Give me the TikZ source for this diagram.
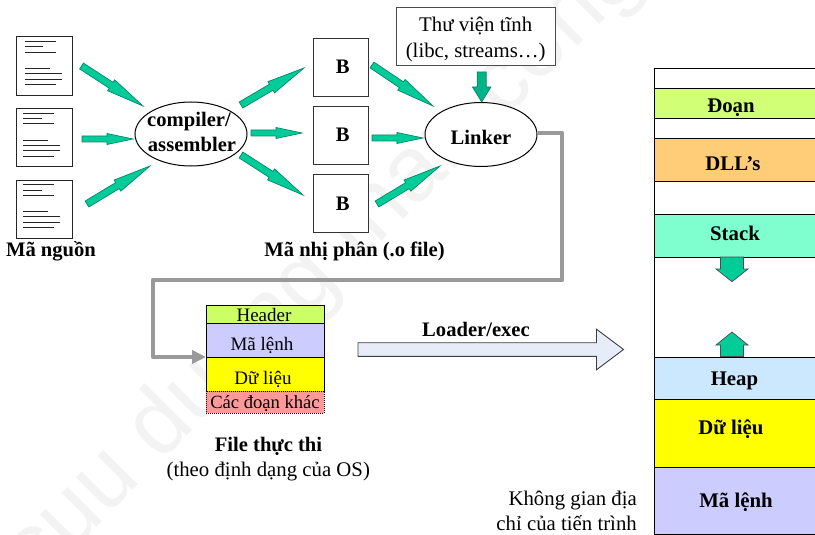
\documentclass[tikz,border=0pt]{standalone}
\usepackage{fontspec}
\setmainfont{Liberation Serif}
\usetikzlibrary{calc,arrows.meta,shapes.geometric}
\definecolor{arrowgreen}{RGB}{0,204,153}
\definecolor{arrowedge}{RGB}{0,136,102}
\definecolor{wiregray}{RGB}{153,153,153}
\definecolor{limeseg}{RGB}{204,255,102}
\definecolor{lilacseg}{RGB}{204,204,255}
\definecolor{pinkseg}{RGB}{255,153,153}
\definecolor{orangeseg}{RGB}{255,204,119}
\definecolor{mintseg}{RGB}{127,255,208}
\definecolor{skyseg}{RGB}{204,232,255}
\definecolor{paleblue}{RGB}{230,236,248}
\definecolor{pureyellow}{RGB}{255,255,0}
\definecolor{markgray}{RGB}{243,243,243}
\newcommand{\blockarrow}[6][]{%
  \coordinate (hbase) at ($(#3)!#4!(#2)$);
  \filldraw[arrowshape,#1] ($(#2)!#5!90:(#3)$) -- ($(hbase)!#5!-90:(#2)$) -- ($(hbase)!#6!-90:(#2)$)
    -- (#3) -- ($(hbase)!#6!90:(#2)$) -- ($(hbase)!#5!90:(#2)$) -- ($(#2)!#5!-90:(#3)$) -- cycle;
}
\newcommand{\docsheet}[4]{%
  \node[sheet,minimum height=#3pt] (#1) at (#2) {};
  \foreach \dy/\lx/\rx in {#4} {
    \draw[textline] ([shift={(\lx,\dy)}]#1.north west) -- ([shift={(\rx,\dy)}]#1.north west);
  }
}
\tikzset{
  arrowshape/.style={fill=arrowgreen,draw=arrowedge,line width=0.7pt,line join=miter},
  sheet/.style={draw=black!85,line width=1.2pt,fill=white,minimum width=56pt,inner sep=0pt,anchor=north west},
  textline/.style={draw=black!85,line width=0.9pt},
  objbox/.style={draw=black!80,line width=1.1pt,fill=white,minimum width=55pt,minimum height=58pt,inner sep=0pt,anchor=north west},
  toolellipse/.style={ellipse,draw=black,line width=1pt,fill=white,minimum width=112pt,minimum height=64pt,inner sep=0pt},
  libbox/.style={draw=black!70,line width=1pt,fill=white,minimum width=159pt,minimum height=58pt,inner sep=0pt,anchor=north west},
  seg/.style={draw=black,line width=1pt,inner sep=0pt,anchor=north west},
  fileseg/.style={seg,minimum width=118pt},
  memseg/.style={seg,minimum width=161pt},
  boldtxt/.style={font=\fontsize{20.6}{24}\selectfont\bfseries,anchor=base,inner sep=0pt},
  membold/.style={font=\fontsize{20.8}{24}\selectfont\bfseries,anchor=base,inner sep=0pt},
  regtxt/.style={font=\fontsize{20.8}{24}\selectfont,anchor=base,inner sep=0pt},
  smalltxt/.style={font=\fontsize{18.6}{22}\selectfont,anchor=base,inner sep=0pt},
  filetxt/.style={font=\fontsize{19}{22}\selectfont,anchor=base,inner sep=0pt},
  graywire/.style={draw=wiregray,line width=4.5pt,line join=round,-{Triangle[length=14pt,width=13pt]}},
  pagemark/.style={font=\fontsize{92}{92}\selectfont\sffamily,text=markgray,rotate=45,inner sep=0pt},
}
\setsansfont{Liberation Sans}
\begin{document}
\begin{tikzpicture}[x=1pt,y=-1pt]
\useasboundingbox (0,0) rectangle (815,535);
\fill[white] (0,0) rectangle (815,535);
\begin{scope}
\clip (0,0) rectangle (815,535);
\node[pagemark] (watermark) at (325,265) {cuu duong than cong};
\end{scope}

% source documents
\docsheet{doca}{16,36}{59}{5/9/40,10.5/9/27,16/9/40,32/9/34,37.5/9/46,43/9/46,48.5/9/40}
\docsheet{docb}{16,108}{58}{5/7/38,10/7/26,15.5/7/38,32/7/32,37.5/7/44,42.5/7/44,48/7/38}
\docsheet{docc}{16,180}{58}{4/7/38,10/7/26,15/7/38,31/7/32,36.5/7/44,42/7/44,47.5/7/38}
\node[boldtxt] (srclabel) at (51,256.7) {Mã nguồn};

% compiler
\node[toolellipse] (compiler) at (191,134) {};
\node[boldtxt] (compa) at (189,126.7) {compiler/};
\node[boldtxt] (compb) at (192,151.7) {assembler};

% object files
\node[objbox] (obja) at (313,38) {};
\node[objbox] (objb) at (313,106) {};
\node[objbox] (objc) at (313,174) {};
\node[boldtxt] (ba) at (342.7,74) {B};
\node[boldtxt] (bb) at (342.7,141.7) {B};
\node[boldtxt] (bc) at (342.7,210) {B};
\node[boldtxt] (objlabel) at (354.5,256.7) {Mã nhị phân (.o file)};

% linker and library
\node[toolellipse] (linker) at (481,134.5) {};
\node[boldtxt] (linkertxt) at (481,145) {Linker};
\node[libbox] (lib) at (396,7) {};
\node[regtxt] (liba) at (475.7,32) {Thư viện tĩnh};
\node[regtxt] (libb) at (475.7,57.3) {(libc, streams…)};

% green arrows
\foreach \n/\xs/\ys/\xe/\ye in {sa/81.5/66/143/106, sc/87/204/150/166, oa/241/105/304/68, oc/241/155/303/195, la/372/65/433/106, lc/377/204/440/166}{
  \coordinate (\n s) at (\xs,\ys);
  \coordinate (\n e) at (\xe,\ye);
  \blockarrow{\n s}{\n e}{38pt}{3.5pt}{6.5pt}
}
\foreach \n/\xs/\ys/\xe/\ye in {sb/82/139/133/139, ob/251/133/302/133, lb/372/138/423/138}{
  \coordinate (\n s) at (\xs,\ys);
  \coordinate (\n e) at (\xe,\ye);
  \blockarrow{\n s}{\n e}{26pt}{3pt}{5.5pt}
}
\coordinate (libout) at (481.7,72);
\coordinate (linkin) at (481.7,102);
\blockarrow[fill=arrowgreen!88!black]{libout}{linkin}{15pt}{4.5pt}{9.2pt}

% executable file
\node[fileseg,fill=limeseg,minimum height=18.5pt] (hdr) at (206,304.5) {};
\node[fileseg,fill=lilacseg,minimum height=34pt] (fcode) at (206,323) {};
\node[fileseg,fill=pureyellow,minimum height=34pt] (fdata) at (206,357) {};
\node[fileseg,fill=pinkseg,minimum height=22pt,densely dotted,line width=0.8pt] (fother) at (206,391) {};
\node[filetxt] (hdrtxt) at (264,321.7) {Header};
\node[filetxt] (fcodetxt) at (262,350) {Mã lệnh};
\node[filetxt] (fdatatxt) at (263,384) {Dữ liệu};
\node[smalltxt] (fothertxt) at (265,408) {Các đoạn khác};
\node[boldtxt] (exea) at (268.5,451.7) {File thực thi};
\node[regtxt] (exeb) at (268.3,476.7) {(theo định dạng của OS)};

% grey connector
\coordinate (wa) at (562,133);
\coordinate (wb) at (562,280);
\coordinate (wc) at (153,280);
\coordinate (wd) at (153,357);
\draw[graywire] (linker.east |- wa) -- (wa) -- (wb) -- (wc) -- (wd) -- (fdata.north west);

% loader arrow
\coordinate (loads) at (358,349.5);
\coordinate (loade) at (623.5,349.5);
\blockarrow[fill=paleblue,draw=black!75,line width=0.9pt]{loads}{loade}{27pt}{6.8pt}{20.3pt}
\node[boldtxt] (loadtxt) at (476,336) {Loader/exec};

% process address space
\draw[line width=1pt] (815,69) -- (654,69) -- (654,534);
\node[memseg,fill=limeseg!90!white,minimum height=30pt] (mseg) at (654,88.5) {};
\node[memseg,fill=orangeseg,minimum height=42.5pt] (mdll) at (654,138.5) {};
\node[memseg,fill=mintseg,minimum height=43pt] (mstack) at (654,213.7) {};
\node[memseg,fill=skyseg,minimum height=42.3pt] (mheap) at (654,356.7) {};
\node[memseg,fill=pureyellow,minimum height=68pt] (mdata) at (653.5,399) {};
\node[memseg,fill=lilacseg,minimum height=66.5pt] (mcode) at (653.5,467) {};
\node[membold] (msegtxt) at (731,113) {Đoạn};
\node[membold] (mdlltxt) at (733,170.7) {DLL’s};
\node[membold] (mstacktxt) at (735,240) {Stack};
\node[membold] (mheaptxt) at (734.5,385) {Heap};
\node[membold] (mdatatxt) at (731,434) {Dữ liệu};
\node[membold] (mcodetxt) at (736,507) {Mã lệnh};
\coordinate (sdowns) at (732,257);
\coordinate (sdowne) at (732,281.7);
\blockarrow[draw=black!70]{sdowns}{sdowne}{12.7pt}{11.5pt}{16pt}
\coordinate (hups) at (732,356.5);
\coordinate (hupe) at (732,332);
\blockarrow[draw=black!70]{hups}{hupe}{13pt}{11.5pt}{16pt}
\node[regtxt,anchor=base east] (spacea) at (637,505.7) {Không gian địa};
\node[regtxt,anchor=base east] (spaceb) at (637,530.7) {chỉ của tiến trình};
\end{tikzpicture}
\end{document}
